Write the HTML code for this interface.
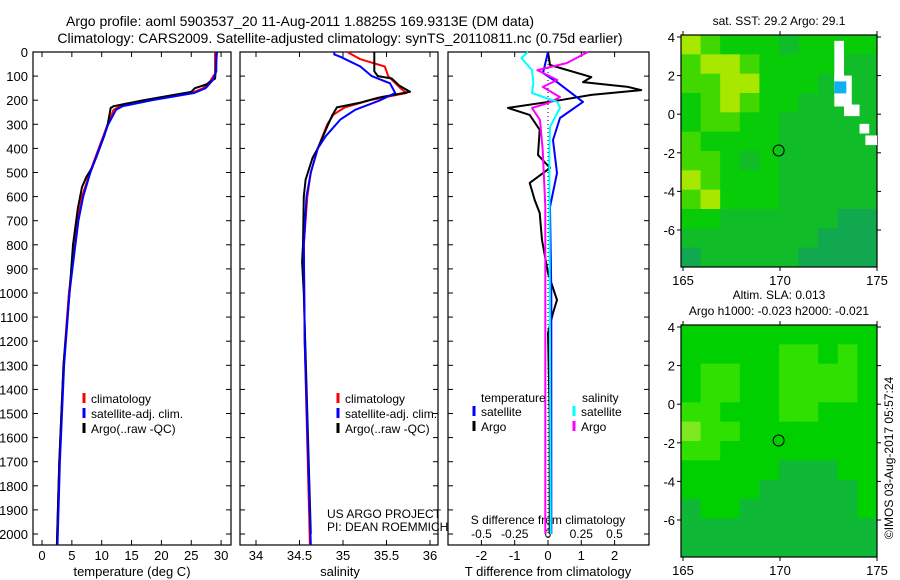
<!DOCTYPE html>
<html><head><meta charset="utf-8"><style>
html,body{margin:0;padding:0;background:#fff;}
svg{display:block;font-family:"Liberation Sans",sans-serif;}
text{fill:#000;}
</style></head><body>
<svg id="chart" width="900" height="580" viewBox="0 0 900 580" xmlns="http://www.w3.org/2000/svg">
<text x="300" y="26" font-size="14" text-anchor="middle">Argo profile: aoml 5903537_20 11-Aug-2011 1.8825S 169.9313E (DM data)</text>
<text x="340" y="43" font-size="14" text-anchor="middle">Climatology: CARS2009. Satellite-adjusted climatology: synTS_20110811.nc (0.75d earlier)</text>
<g id="g"></g>
</svg>
<script>
// ---- temperature profiles (depth m, deg C)
const tClimD=[0,90,100,120,150,170,200,225,240,300,400,500,600,700,900,1000,1300,1700,2045];
const tClimV=[29.0,29.0,28.7,28.2,27.0,25.0,18.0,13.0,12.0,11.0,9.5,8.0,6.7,6.0,5.0,4.5,3.6,2.9,2.5];
const tSatD=[0,80,100,120,150,170,200,225,240,300,400,500,600,700,900,1000,1300,1700,2045];
const tSatV=[29.2,29.2,28.9,28.5,27.4,25.5,18.5,13.5,12.4,11.1,9.6,8.1,6.9,6.1,5.1,4.6,3.7,3.0,2.6];
const tArgD=[0,110,135,150,165,200,225,232,300,350,430,480,520,560,650,800,1000,1300,1700,2045];
const tArgV=[29.3,29.0,27.5,25.6,25.0,17.0,12.0,11.5,11.0,10.4,9.2,8.4,7.4,6.7,6.0,5.2,4.6,3.6,2.9,2.5];
// ---- salinity profiles
const sClimD=[0,30,60,100,150,170,200,230,260,300,400,500,600,800,1200,2045];
const sClimV=[35.05,35.2,35.48,35.52,35.66,35.73,35.31,35.02,34.89,34.82,34.71,34.63,34.59,34.55,34.56,34.62];
const sSatD=[0,10,20,60,100,130,170,200,240,280,350,400,500,600,800,1200,2045];
const sSatV=[34.9,34.9,34.97,35.2,35.33,35.54,35.6,35.43,35.14,34.97,34.8,34.71,34.63,34.58,34.55,34.56,34.63];
const sArgD=[0,80,100,110,140,165,190,210,230,260,300,400,440,530,600,800,870,1000,1500,2000];
const sArgV=[35.36,35.36,35.4,35.56,35.65,35.77,35.4,35.2,34.93,34.88,34.83,34.71,34.65,34.57,34.55,34.54,34.53,34.55,34.59,34.63];
// ---- differences from climatology
const dTArgD=[0,54,104,125,145,158,178,200,232,261,323,427,481,543,614,668,780,917,1029,1083,1166,1500,2000];
const dTArgV=[0,0.06,1.3,1.05,2.4,2.8,1.3,0.36,-1.2,-0.55,-0.25,-0.3,0.06,-0.55,-0.4,-0.25,-0.18,0,0.27,0.15,0,0.05,0.05];
const dTSatD=[0,87,125,207,274,365,502,643,1000,2000];
const dTSatV=[0,-0.15,0.27,1.05,0.36,0.15,0.27,0.06,0.1,0.1];
const dSArgD=[0,46,75,116,145,187,212,232,282,407,640,2000];
const dSArgV=[0.3,0.14,-0.08,0.07,-0.04,0.09,0,-0.12,-0.06,-0.04,-0.02,-0.02];
const dSSatD=[0,25,75,129,170,207,232,311,427,2000];
const dSSatV=[-0.15,-0.2,-0.12,-0.11,-0.12,0.07,0.09,0.015,0.01,0.02];
// ---- ticks
const depthTicks=[0,100,200,300,400,500,600,700,800,900,1000,1100,1200,1300,1400,1500,1600,1700,1800,1900,2000];
const tTicks=[0,5,10,15,20,25,30];
const sTicks=[34,34.5,35,35.5,36];
const dTTicks=[-2,-1,0,1,2];
const dSTicks=[-0.5,-0.25,0,0.25,0.5];
const dSTickLabels=["-0.5","-0.25","0","0.25","0.5"];
const latTicks=[4,2,0,-2,-4,-6];
const lonTicks=[165,170,175];
// ---- map grids (0=dark teal-green .. 4=yellow-green), 10 cols x 12 rows
const sstGrid=[
"4322212222","3443222211","3344222111","2343221111","2332211111","3222211111",
"3321211111","4322211111","3422211111","2211111100","1111111000","0111110000"];
const slaGrid=[
"2222222222","2222233232","2332233332","2332233332","3322233222","4332222222",
"3322222222","2222211122","2222111112","1221111112","1111111111","1111111111"];

const g=document.getElementById('g');
const NS='http://www.w3.org/2000/svg';
function el(tag,attrs,parent){const e=document.createElementNS(NS,tag);for(const k in attrs)e.setAttribute(k,attrs[k]);(parent||g).appendChild(e);return e;}
function txt(x,y,s,size,anchor,parent){const t=el('text',{x:x,y:y,'font-size':size,'text-anchor':anchor||'start'},parent);t.textContent=s;return t;}

const TOP=52,BOT=545;
const yD=d=>TOP+d*0.241;
const xT=v=>42+v*5.97;
const xS=v=>256+(v-34)*87;
const xDT=v=>548+v*33.3;
const xDS=v=>548+v*133;

function frame(x0,x1,name){const r=el('rect',{x:x0,y:TOP,width:x1-x0,height:BOT-TOP,fill:'#fff',stroke:'#000','stroke-width':1.2});

}
function line(D,V,fx,color,name,w){
 const p=D.map((d,i)=>fx(V[i]).toFixed(1)+','+yD(d).toFixed(1)).join(' ');
 const l=el('polyline',{points:p,fill:'none',stroke:color,'stroke-width':w||2,'stroke-linejoin':'round'});
 
 
}
function xticks(ticks,labels,fx,y,name){
 ticks.forEach((t,i)=>{const x=fx(t);el('line',{x1:x,y1:BOT,x2:x,y2:BOT-5,stroke:'#000'});el('line',{x1:x,y1:TOP,x2:x,y2:TOP+5,stroke:'#000'});
 const l=txt(x,y,labels[i],13,'middle');
 
 });
}
function yticks(x0,x1){depthTicks.forEach(d=>{el('line',{x1:x0,y1:yD(d),x2:x0+5,y2:yD(d),stroke:'#000'});el('line',{x1:x1,y1:yD(d),x2:x1-5,y2:yD(d),stroke:'#000'});});}

// panel 1
frame(33,231,'temperature-panel');yticks(33,231);
depthTicks.forEach(d=>{const l=txt(28,yD(d)+5,String(d),13,'end');
 
 });
xticks(tTicks,tTicks.map(String),xT,560,'temperature-tick-label');
txt(132,576,'temperature (deg C)',13,'middle');
line(tClimD,tClimV,xT,'#f00','temperature-climatology-line');
line(tArgD,tArgV,xT,'#000','temperature-argo-line');
line(tSatD,tSatV,xT,'#00f','temperature-satellite-line');
// panel 2
frame(240,438,'salinity-panel');yticks(240,438);
xticks(sTicks,sTicks.map(String),xS,560,'salinity-tick-label');
txt(340,576,'salinity',13,'middle');
line(sClimD,sClimV,xS,'#f00','salinity-climatology-line');
line(sArgD,sArgV,xS,'#000','salinity-argo-line');
line(sSatD,sSatV,xS,'#00f','salinity-satellite-line');
txt(327,518,'US ARGO PROJECT',12);txt(327,531,'PI: DEAN ROEMMICH',12);
// legends
function legend(x,y,items,name){items.forEach((it,i)=>{el('line',{x1:x,y1:y+i*15-10,x2:x,y2:y+i*15,stroke:it[1],'stroke-width':3});
 const t=txt(x+7,y+i*15,it[0],12);
 
 });}
legend(84,403,[['climatology','#f00'],['satellite-adj. clim.','#00f'],['Argo(..raw -QC)','#000']],'legend-entry');
legend(338,403,[['climatology','#f00'],['satellite-adj. clim.','#00f'],['Argo(..raw -QC)','#000']],'legend-entry');
// panel 3
frame(448,649,'difference-panel');yticks(448,649);
el('line',{x1:548,y1:TOP,x2:548,y2:BOT,stroke:'#000','stroke-dasharray':'1,3'});
xticks(dTTicks,dTTicks.map(String),xDT,560,'t-diff-tick-label');
dSTicks.forEach((t,i)=>{const l=txt(xDS(t),538,dSTickLabels[i],12,'middle');
 
 });
txt(548,524,'S difference from climatology',12,'middle');
txt(548,576,'T difference from climatology',13,'middle');
line(dTArgD,dTArgV,xDT,'#000','t-diff-argo-line');
line(dTSatD,dTSatV,xDT,'#00f','t-diff-satellite-line');
line(dSArgD,dSArgV,xDS,'#f0f','s-diff-argo-line');
line(dSSatD,dSSatV,xDS,'#0ff','s-diff-satellite-line');
txt(481,402,'temperature',12);
legend(474,416,[['satellite','#00f'],['Argo','#000']],'legend-entry');
txt(582,402,'salinity',12);
legend(574,416,[['satellite','#0ff'],['Argo','#f0f']],'legend-entry');

// maps
const MX0=681,MX1=877;
const lonX=l=>683+(l-165)*19.4;
const palSST=['#12a850','#10bc28','#08cc08','#40d800','#a8e800'];
const palSLA=['#10a848','#10b838','#00d000','#30e000','#80e820'];
function map(top,grid,pal,name,titles){
 const bot=top+232;const latY=la=>top+2+(4-la)*19.3;
 const cols=grid[0].length,rows=grid.length,cw=(MX1-MX0)/cols,ch=(bot-top)/rows;
 grid.forEach((row,r)=>row.split('').forEach((c,ci)=>{const cell=el('rect',{x:MX0+ci*cw,y:top+r*ch,width:cw+0.5,height:ch+0.5,fill:pal[+c]});
  
  }));
 const f=el('rect',{x:MX0,y:top,width:MX1-MX0,height:bot-top,fill:'none',stroke:'#000','stroke-width':1.2});
 
 
 latTicks.forEach(la=>{const y=latY(la);el('line',{x1:MX0-4,y1:y,x2:MX0,y2:y,stroke:'#000'});el('line',{x1:MX1,y1:y,x2:MX1+4,y2:y,stroke:'#000'});txt(MX0-6,y+5,String(la),13,'end');});
 lonTicks.forEach(lo=>{const x=lonX(lo);el('line',{x1:x,y1:bot,x2:x,y2:bot+4,stroke:'#000'});el('line',{x1:x,y1:top-4,x2:x,y2:top,stroke:'#000'});txt(x,bot+18,String(lo),13,'middle');});
 const c=el('circle',{cx:lonX(169.93),cy:latY(-1.88),r:5.5,fill:'none',stroke:'#000'});
 
 
 titles.forEach((t,i)=>txt(779,top-(titles.length-i)*16+6,t,12,'middle'));
 return latY;
}
const ly1=map(35,sstGrid,palSST,'sst-map',['sat. SST: 29.2 Argo: 29.1']);
// white land-mask strip on SST map
[[172.8,3.8,0.5,2.6],[172.8,2.0,0.9,1.6],[173.3,0.5,0.8,0.6],[174.1,-0.5,0.5,0.5],[174.4,-1.1,0.6,0.5]].forEach(b=>{el('rect',{x:lonX(b[0]),y:ly1(b[1]),width:b[2]*19.4,height:b[3]*19.3,fill:'#fff'});});
el('rect',{x:lonX(172.8),y:ly1(1.7),width:12,height:12,fill:'#10b0f0'});
map(325,slaGrid,palSLA,'sla-map',['Altim. SLA: 0.013','Argo h1000: -0.023 h2000: -0.021']);
const cr=txt(0,0,'©IMOS 03-Aug-2017 05:57:24',12,'middle');
cr.setAttribute('transform','translate(893,458) rotate(-90)');
</script>
</body></html>
